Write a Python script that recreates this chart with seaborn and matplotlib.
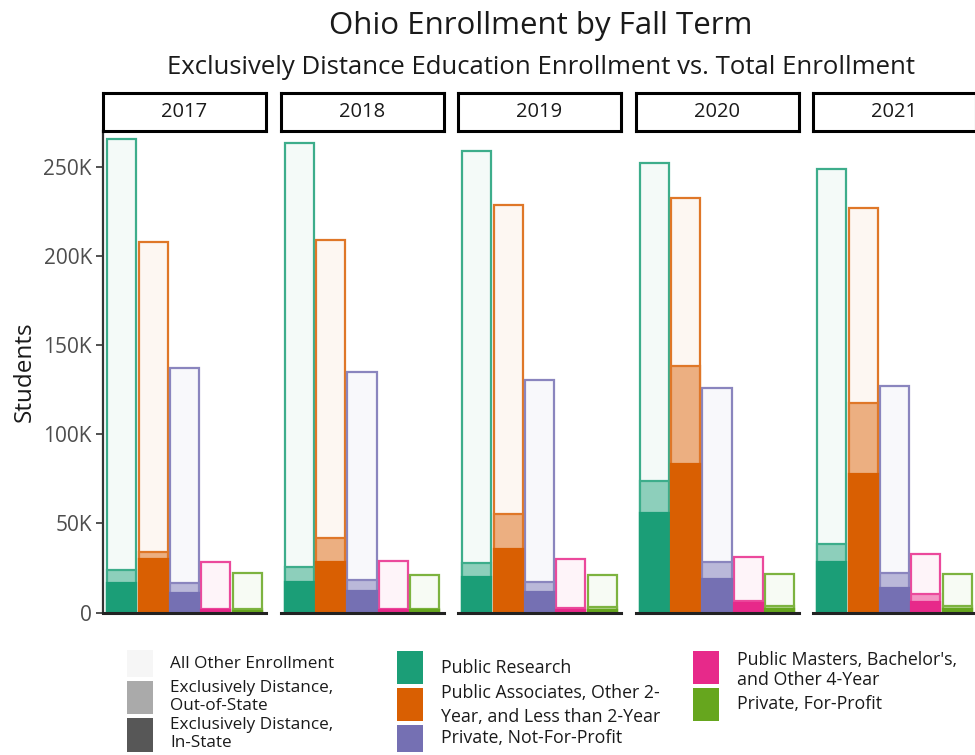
import matplotlib
matplotlib.use("Agg")
import matplotlib.pyplot as plt
from matplotlib.patches import Rectangle
from matplotlib.ticker import FuncFormatter
from matplotlib.colors import to_rgb
import numpy as np
import pandas as pd
import seaborn as sns

# ---------------- data ----------------
years = ["2017", "2018", "2019", "2020", "2021"]
categories = [
    "Public Research",
    "Public Associates, Other 2-\nYear, and Less than 2-Year",
    "Private, Not-For-Profit",
    "Public Masters, Bachelor's,\nand Other 4-Year",
    "Private, For-Profit",
]
cat_colors = ["#1b9e77", "#d95f02", "#7570b3", "#e7298a", "#66a61e"]

# rows = years, columns = categories (students)
total_enrollment = [
    [265500, 207800, 137200, 28600, 22200],
    [263300, 208900, 135000, 28800, 21000],
    [258800, 228500, 130600, 30000, 21000],
    [252000, 232400, 126200, 31000, 21900],
    [248700, 226800, 127000, 33000, 21900],
]
dist_in_state = [
    [16500, 29900, 10900, 1500, 1200],
    [17400, 28600, 12200, 1600, 1300],
    [19800, 35500, 11800, 1600, 1500],
    [56000, 83200, 18700, 5300, 1900],
    [28600, 77600, 14000, 6200, 2100],
]
dist_out_state = [
    [7400, 4300, 5600, 700, 600],
    [8400, 13100, 6100, 700, 600],
    [7900, 19800, 5600, 800, 1900],
    [17800, 55100, 9600, 1400, 1900],
    [9700, 40100, 8400, 4100, 1700],
]

legend_status = ["All Other Enrollment", "Exclusively Distance,\nOut-of-State",
                 "Exclusively Distance,\nIn-State"]
status_colors = ["#f6f6f6", "#aaaaaa", "#575757"]

title = "Ohio Enrollment by Fall Term"
subtitle = "Exclusively Distance Education Enrollment vs. Total Enrollment"
y_ticks = [0, 50000, 100000, 150000, 200000, 250000]

# ---------------- styling ----------------
sns.set_theme(style="white")
plt.rcParams["font.family"] = ["Open Sans", "DejaVu Sans"]

def blend(c, a):
    r = np.array(to_rgb(c))
    return tuple(1 - a * (1 - r))

rows = []
for yi, yr in enumerate(years):
    for ci, cat in enumerate(categories):
        rows.append(dict(year=yr, category=cat,
                         total=total_enrollment[yi][ci],
                         dist=dist_in_state[yi][ci] + dist_out_state[yi][ci],
                         in_state=dist_in_state[yi][ci]))
df = pd.DataFrame(rows)

W, H = 975, 755
fig = plt.figure(figsize=(W / 100, H / 100), dpi=100)

panel_left = [103, 280.5, 458, 635.5, 813]
panel_w = 163
y_bot_px, y_top_px = 612.7, 131
strip_top_px = 93

def fx(x):
    return x / W

def fy(y):
    return 1 - y / H

for i, yr in enumerate(years):
    ax = fig.add_axes([fx(panel_left[i]), fy(y_bot_px), panel_w / W,
                       (y_bot_px - y_top_px) / H])
    sub = df[df["year"] == yr]
    layers = [
        ("total", [blend(c, 0.05) for c in cat_colors], [blend(c, 0.85) for c in cat_colors]),
        ("dist", [blend(c, 0.5) for c in cat_colors], [blend(c, 0.85) for c in cat_colors]),
        ("in_state", cat_colors, cat_colors),
    ]
    for col, faces, edges in layers:
        n0 = len(ax.patches)
        sns.barplot(data=sub, x="category", y=col, hue="category",
                    order=categories, hue_order=categories,
                    palette=dict(zip(categories, faces)), dodge=False,
                    width=0.93, legend=False, ax=ax, linewidth=1.6,
                    saturation=1)
        for p, ec in zip(ax.patches[n0:], edges):
            p.set_edgecolor(ec)
    ax.set_xlim(-0.6, 4.6)
    ax.set_ylim(0, 270000)
    ax.set_xlabel("")
    ax.set_xticks([])
    for s in ["top", "right"]:
        ax.spines[s].set_visible(False)
    ax.spines["bottom"].set_color("#222222")
    ax.spines["bottom"].set_linewidth(2.2)
    if i == 0:
        ax.spines["left"].set_color("#333333")
        ax.spines["left"].set_linewidth(1.6)
        ax.set_yticks(y_ticks)
        ax.yaxis.set_major_formatter(FuncFormatter(lambda v, p: "0" if v == 0 else f"{int(v/1000)}K"))
        ax.tick_params(axis="y", which="major", left=True, length=5, width=1.2,
                       color="#333333", labelsize=15, labelcolor="#4d4d4d", pad=3)
        ax.set_ylabel("Students", fontsize=17.5, color="#1a1a1a", labelpad=5)
    else:
        ax.spines["left"].set_visible(False)
        ax.set_yticks([])
        ax.set_ylabel("")
    # strip
    sax = fig.add_axes([fx(panel_left[i]), fy(y_top_px), panel_w / W,
                        (y_top_px - strip_top_px) / H])
    sax.set_xticks([]); sax.set_yticks([])
    sax.set_facecolor("white")
    for s in sax.spines.values():
        s.set_color("black"); s.set_linewidth(2.2)
    sax.text(0.5, 0.5, yr, ha="center", va="center", fontsize=14.5, color="#1a1a1a",
             transform=sax.transAxes)

fig.text(fx(541), fy(26), title, ha="center", va="center", fontsize=22.5, color="#1a1a1a")
fig.text(fx(541), fy(67), subtitle, ha="center", va="center", fontsize=18.5, color="#1a1a1a")

# ---------------- legend (manual layout) ----------------
def legend_column(colors, labels, x_sw, x_txt, sw_rows, txt_centers, spacing, fs):
    for c, lab, (y0, y1), yc in zip(colors, labels, sw_rows, txt_centers):
        fig.add_artist(Rectangle((fx(x_sw), fy(y1)), 26 / W, (y1 - y0) / H,
                                 transform=fig.transFigure, facecolor=c,
                                 edgecolor="none", clip_on=False))
        fig.text(fx(x_txt), fy(yc), lab, ha="left", va="center", fontsize=fs,
                 color="#1a1a1a", linespacing=spacing)

legend_column(status_colors, legend_status, 127, 170,
              [(650, 677), (681, 714), (718, 752)], [664, 697, 734], 1.12, 12.3)
legend_column(cat_colors[:3], categories[:3], 397, 441,
              [(651, 684), (688, 721), (725, 752)], [668, 705, 738], 1.45, 12.8)
legend_column(cat_colors[3:], categories[3:], 693, 737,
              [(651, 684), (688, 721)], [670, 704], 1.2, 12.8)

fig.savefig("out.png", dpi=100)
